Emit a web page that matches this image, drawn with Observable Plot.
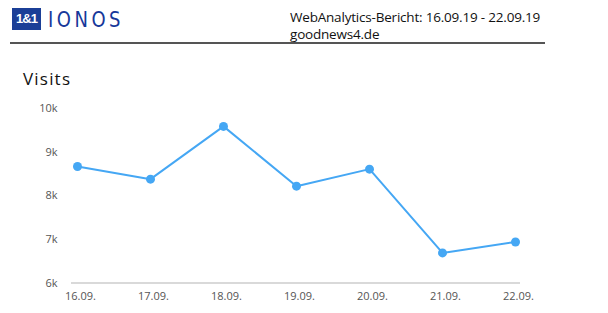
<!DOCTYPE html>
<html><head><meta charset="utf-8">
<script src="https://cdn.jsdelivr.net/npm/d3@7"></script>
<script src="https://cdn.jsdelivr.net/npm/@observablehq/plot@0.6"></script>
<style>
body{margin:0;width:608px;height:313px;overflow:hidden;background:#fff;position:relative;font-family:"Open Sans",sans-serif}
#logo{position:absolute;left:12px;top:8px;width:29px;height:22px;background:#1b3f97;color:#fff;font:bold 13px "Liberation Sans",sans-serif;line-height:22px;text-align:center;letter-spacing:-1px}
#ionos{position:absolute;left:48px;top:5px;color:#16389a;font:20px "DejaVu Sans Condensed","Liberation Sans Narrow",sans-serif;letter-spacing:3.5px;line-height:26px;transform:scaleY(1.1);transform-origin:left top}
#rule{position:absolute;left:10px;top:42px;width:535px;height:2px;background:#555}
#h1{position:absolute;left:290px;top:9px;font:13.5px "Open Sans",sans-serif;color:#111;line-height:17px;letter-spacing:-0.2px}
#title{position:absolute;left:23px;top:67px;font:17px "Open Sans",sans-serif;color:#111;letter-spacing:1.2px}
#chart{position:absolute;left:0;top:0}
</style></head><body>
<div id="chart"></div>
<div id="logo">1&amp;1</div>
<div id="ionos">IONOS</div>
<div id="rule"></div>
<div id="h1">WebAnalytics-Bericht: 16.09.19 - 22.09.19<br>goodnews4.de</div>
<div id="title">Visits</div>
<script>
const days = ["16.09.","17.09.","18.09.","19.09.","20.09.","21.09.","22.09."];
const visits = [8670, 8380, 9590, 8220, 8610, 6690, 6940];
const yTicks = [6000, 7000, 8000, 9000, 10000];
const data = days.map((d, i) => ({day: d, v: visits[i]}));
const color = "#45a7f4";
const chart = Plot.plot({
  width: 608, height: 313,
  marginTop: 108, marginBottom: 30.5, marginLeft: 75, marginRight: 92,
  style: {fontFamily: "'Open Sans', sans-serif", fontSize: "11px", color: "#555", background: "transparent"},
  x: {type: "point", domain: days, padding: 0},
  y: {domain: [6000, 10000]},
  marks: [
    Plot.ruleY([6000], {stroke: "#ccc", strokeWidth: 1.5, insetLeft: -4, insetRight: -4}),
    Plot.axisY({ticks: yTicks, tickSize: 0, tickPadding: 18, tickFormat: d => d/1000 + "k", label: null, fill: "#555"}),
    Plot.axisX({tickSize: 0, tickPadding: 9, label: null, fill: "#555", dx: 3}),
    Plot.line(data, {x: "day", y: "v", stroke: color, strokeWidth: 2}),
    Plot.dot(data, {x: "day", y: "v", fill: color, r: 4.5})
  ]
});
document.getElementById("chart").appendChild(chart);
</script>
</body></html>
